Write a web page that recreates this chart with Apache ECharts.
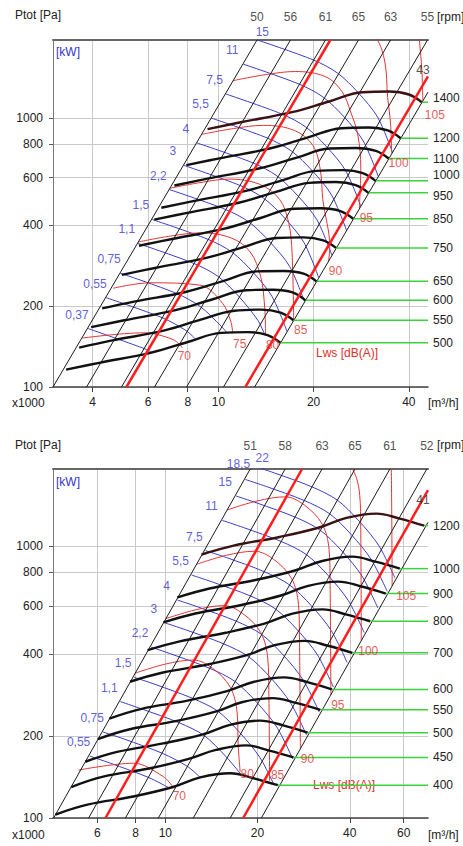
<!DOCTYPE html>
<html><head><meta charset="utf-8">
<script src="https://cdn.jsdelivr.net/npm/echarts@6/dist/echarts.min.js"></script>
<style>html,body{margin:0;padding:0;background:#fff}#chart{width:463px;height:846px}</style>
</head><body><div id="chart"></div>
<script>
// ================= TOP CHART DATA (flow x1000 m3/h, pressure Pa) =================
const topXTicks = [4, 6, 8, 10, 20, 40];
const topYTicks = [100, 200, 400, 600, 800, 1000];
const topRpm = [500, 550, 600, 650, 750, 850, 950, 1000, 1100, 1200, 1400];
const topFanCurves = [
  [[3.3,116],[4.2,123],[6.1,134],[8.0,147],[10.2,159],[12.4,160],[14.3,156],[15.7,146]],
  [[3.63,140],[4.62,149],[6.71,162],[8.8,178],[11.22,192],[13.64,194],[15.73,189],[17.27,177]],
  [[3.96,167],[5.04,177],[7.32,193],[9.6,212],[12.24,229],[14.88,230],[17.16,225],[18.84,210]],
  [[4.29,196],[5.46,208],[7.93,226],[10.4,248],[13.26,269],[16.12,270],[18.59,264],[20.41,247]],
  [[4.95,261],[6.3,277],[9.15,302],[12.0,331],[15.3,358],[18.6,360],[21.45,351],[23.55,329]],
  [[5.61,335],[7.14,355],[10.37,387],[13.6,425],[17.34,460],[21.08,462],[24.31,451],[26.69,422]],
  [[6.27,419],[7.98,444],[11.59,484],[15.2,531],[19.38,574],[23.56,578],[27.17,563],[29.83,527]],
  [[6.6,464],[8.4,492],[12.2,536],[16.0,588],[20.4,636],[24.8,640],[28.6,624],[31.4,584]],
  [[7.26,561],[9.24,595],[13.42,649],[17.6,711],[22.44,770],[27.28,774],[31.46,755],[34.54,707]],
  [[7.92,668],[10.08,708],[14.64,772],[19.2,847],[24.48,916],[29.76,922],[34.32,899],[37.68,841]],
  [[9.24,909],[11.76,964],[17.08,1051],[22.4,1152],[28.56,1247],[34.72,1254],[40.04,1223],[43.96,1145]]
];
const topPowerLabels = ['15','11','7,5','5,5','4','3','2,2','1,5','1,1','0,75','0,55','0,37'];
const topPowerLines = [
  [[13.28,1950],[19.98,1643],[23.8,1470],[27.73,1239],[31.85,1009],[35.5,747]],
  [[11.98,1586],[18.02,1336],[21.46,1195],[25.01,1008],[28.72,821],[32.01,607]],
  [[10.54,1229],[15.86,1035],[18.89,926],[22.01,781],[25.28,636],[28.18,471]],
  [[9.51,999],[14.3,842],[17.04,753],[19.85,635],[22.8,517],[25.41,383]],
  [[8.55,808],[12.86,681],[15.32,609],[17.85,513],[20.5,418],[22.85,309]],
  [[7.77,667],[11.68,562],[13.92,503],[16.22,424],[18.63,345],[20.76,255]],
  [[7.0,542],[10.54,457],[12.55,409],[14.62,344],[16.79,281],[18.72,208]],
  [[6.16,420],[9.27,354],[11.05,317],[12.87,267],[14.78,217],[16.48,161]],
  [[5.56,342],[8.36,288],[9.96,258],[11.61,217],[13.33,177],[14.0,157]],
  [[4.89,265],[7.36,223],[8.77,199],[10.22,168],[10.65,159]],
  [[4.41,215],[6.64,181],[7.91,162],[8.5,150]],
  [[3.87,165],[5.82,139],[6.2,134]]
];
const topSoundLabels = ['70','75','80','85','90','95','100','105'];
const topSoundLines = [
  [[3.71,152],[5.79,159],[7.2,150],[7.69,140]],
  [[4.65,233],[6.09,244],[8.77,239],[10.3,205],[10.95,175],[11.1,158]],
  [[5.58,346],[7.05,364],[8.77,374],[11.0,358],[12.6,318],[13.6,258],[14.0,200],[14.1,156]],
  [[7.02,548],[8.88,577],[10.8,593],[13.5,567],[15.6,499],[16.7,406],[17.1,314],[17.3,178]],
  [[8.84,869],[11.17,914],[13.9,939],[17.4,899],[19.9,791],[21.0,643],[21.4,496],[22.5,332],[22.3,293]],
  [[11.13,1377],[14.07,1449],[17.5,1489],[21.8,1425],[24.6,1254],[26.2,1053],[27.6,865],[28.2,652],[27.9,462]],
  [[14.02,2183],[17.71,2297],[22.03,2360],[27.5,2259],[31.5,1988],[33.6,1615],[34.3,1190],[35.0,966],[35.3,740]],
  [[17.64,3460],[22.29,3640],[27.73,3740],[34.6,3580],[39.7,3150],[42.3,2560],[43.3,1900],[44.0,1500],[44.3,1160]]
];
const topSystemLabels = ['50','56','61','65','63','55','43'];
const topSystemLines = [
  [[3.0,100],[13.25,1950]],
  [[3.83,100],[16.9,1950]],
  [[4.94,100],[21.81,1950]],
  [[6.28,100],[27.73,1950]],
  [[7.93,100],[35.03,1950]],
  [[10.38,100],[45.84,1950]],
  [[13.02,100],[46,1248]]
];
const topRedLines = [
  [[5.12,100],[22.59,1950]],
  [[12.17,100],[46,1428]]
];

// ================= BOTTOM CHART DATA =================
const botXTicks = [6, 8, 10, 20, 40, 60];
const botYTicks = [100, 200, 400, 600, 800, 1000];
const botRpm = [400, 450, 500, 550, 600, 700, 800, 900, 1000, 1200];
const botFanCurves = [
  [[4.38,103],[5.57,112],[7.87,120],[10.6,130],[13.0,141],[16.3,146],[19.4,140],[23.3,132]],
  [[4.93,130],[6.27,142],[8.85,152],[11.93,165],[14.63,178],[18.34,185],[21.83,177],[26.21,167]],
  [[5.48,161],[6.96,175],[9.84,188],[13.25,203],[16.25,220],[20.38,228],[24.25,219],[29.13,206]],
  [[6.02,195],[7.66,212],[10.82,227],[14.58,246],[17.88,267],[22.41,276],[26.68,265],[32.04,250]],
  [[6.57,232],[8.36,252],[11.81,270],[15.9,293],[19.5,317],[24.45,329],[29.1,316],[34.95,297]],
  [[7.67,317],[9.75,342],[13.77,367],[18.55,398],[22.75,432],[28.53,448],[33.95,430],[40.78,405]],
  [[8.76,414],[11.14,446],[15.74,480],[21.2,520],[26.0,564],[32.6,585],[38.8,561],[46.6,529]],
  [[9.86,524],[12.53,565],[17.71,607],[23.85,658],[29.25,714],[36.68,740],[43.65,710],[52.43,669]],
  [[10.95,647],[13.93,698],[19.68,750],[26.5,813],[32.5,881],[40.75,914],[48.5,876],[58.25,826]],
  [[13.14,931],[16.71,1004],[23.61,1080],[31.8,1170],[39.0,1269],[48.9,1316],[58.2,1262],[69.9,1189]]
];
const botPowerLabels = ['22','18,5','15','11','7,5','5,5','4','3','2,2','1,5','1,1','0,75','0,55'];
const botPowerLines = [
  [[19.35,1971],[22.66,1858],[30.12,1650],[36.34,1478],[42.86,1237],[49.8,1002],[56.13,764]],
  [[18.26,1756],[21.38,1655],[28.43,1470],[34.3,1317],[40.45,1102],[47.0,892],[52.98,681]],
  [[17.03,1527],[19.94,1439],[26.51,1278],[31.98,1145],[37.72,958],[43.83,776],[49.4,592]],
  [[15.36,1242],[17.98,1170],[23.91,1039],[28.84,931],[34.02,779],[39.53,631],[44.55,481]],
  [[13.52,962],[15.83,907],[21.04,805],[25.38,721],[29.94,604],[34.79,489],[39.21,373]],
  [[12.19,782],[14.27,737],[18.98,655],[22.89,587],[27.0,491],[31.37,398],[35.36,303]],
  [[10.96,633],[12.84,596],[17.06,529],[20.59,474],[24.28,397],[28.21,321],[31.8,245]],
  [[9.96,522],[11.66,492],[15.5,437],[18.7,392],[22.06,328],[25.63,265],[28.89,202]],
  [[8.98,425],[10.51,400],[13.98,355],[16.86,318],[19.89,266],[23.11,216],[26.05,165]],
  [[7.91,329],[9.26,310],[12.31,275],[14.85,247],[17.51,206],[20.35,167],[22.6,133]],
  [[7.13,268],[8.35,252],[11.1,224],[13.39,201],[15.79,168],[17.8,143]],
  [[6.27,207],[7.35,195],[9.77,173],[11.78,155],[13.0,141]],
  [[5.66,169],[6.62,159],[8.81,141],[10.3,129]]
];
const botSoundLabels = ['70','80','85','90','95','100','105'];
const botSoundLines = [
  [[5.21,150],[7.87,159],[9.85,142],[10.54,131]],
  [[7.98,341],[10.0,368],[12.34,381],[14.23,356],[16.28,303],[17.16,243],[17.29,186],[17.55,148]],
  [[10.05,541],[12.59,583],[15.53,604],[17.91,564],[20.5,480],[21.6,385],[21.77,294],[21.9,137]],
  [[12.65,857],[15.85,925],[19.56,957],[22.55,894],[25.8,761],[27.2,611],[27.4,467],[27.6,180]],
  [[15.92,1357],[19.95,1465],[24.62,1517],[28.39,1417],[32.48,1206],[34.24,968],[34.5,740],[34.7,284]],
  [[20.05,2152],[25.12,2322],[31.0,2404],[35.75,2246],[40.9,1912],[43.11,1535],[43.43,1174],[43.6,449]],
  [[25.23,3410],[31.62,3680],[39.02,3810],[45.0,3560],[51.48,3030],[54.26,2430],[54.67,1860],[55.0,714]]
];
const botSystemLabels = ['51','58','63','65','61','52','41'];
const botSystemLines = [
  [[4.32,100],[18.93,1920]],
  [[5.62,100],[24.61,1920]],
  [[7.41,100],[32.48,1920]],
  [[9.49,100],[41.59,1920]],
  [[12.34,100],[54.06,1920]],
  [[16.29,100],[71.36,1920]],
  [[20.58,100],[72,1223]]
];
const botRedLines = [
  [[6.38,100],[27.95,1920]],
  [[17.96,100],[72,1607]]
];

// ================= STYLE / LAYOUT =================
const FONT = '"Liberation Sans", Arial, sans-serif';
const C = {
  fan: '#111111', fanTop: '#3a1212', blue: '#3c3cc8', blueText: '#3434d0',
  red: '#e33434', redText: '#e0302c', redThick: '#ff1e1e', diag: '#1c1c1c',
  green: '#3ad43a', grid: '#c9c9c9', text: '#222222'
};
const panels = [
  { grid: {left: 53, top: 40, width: 375, height: 347}, xMin: 3, xMax: 46, yMin: 100, yMax: 1950,
    xTicks: topXTicks, yTicks: topYTicks, rpm: topRpm, fan: topFanCurves,
    powerLabels: topPowerLabels, power: topPowerLines, soundLabels: topSoundLabels, sound: topSoundLines,
    sysLabels: topSystemLabels, sys: topSystemLines, red: topRedLines,
    kwOffsets: {0: [5, -8]}, soundOffsets: {0: [2, 8], 7: [12, 14]}, rpmOffsets: {6: [0, 3], 7: [0, -6], 10: [0, -4]} },
  { grid: {left: 53, top: 469, width: 375, height: 349}, xMin: 4.3, xMax: 72, yMin: 100, yMax: 1920,
    xTicks: botXTicks, yTicks: botYTicks, rpm: botRpm, fan: botFanCurves,
    powerLabels: botPowerLabels, power: botPowerLines, soundLabels: botSoundLabels, sound: botSoundLines,
    sysLabels: botSystemLabels, sys: botSystemLines, red: botRedLines,
    kwOffsets: {0: [9, -8], 1: [-7, -16]}, soundOffsets: {1: [7, 2], 2: [8, -6], 6: [14, 10]}, rpmOffsets: {} }
];

const xAxes = [], yAxes = [], grids = [], series = [];
const fmt = v => String(Math.round(v));
panels.forEach((P, gi) => {
  grids.push(Object.assign({containLabel: false}, P.grid));
  xAxes[gi] = {
    type: 'log', logBase: 10, gridIndex: gi, min: P.xMin, max: P.xMax, position: 'bottom',
    axisLine: {show: true, onZero: false, lineStyle: {color: '#444', width: 1.5}},
    axisTick: {show: true, customValues: P.xTicks, length: 5, lineStyle: {color: '#444'}},
    axisLabel: {show: true, customValues: P.xTicks, formatter: fmt, color: C.text, fontSize: 12, fontFamily: FONT, margin: 9},
    splitLine: {show: true, lineStyle: {color: C.grid, width: 1}},
    minorTick: {show: false}, minorSplitLine: {show: false}
  };
  xAxes[gi + 2] = {
    type: 'log', logBase: 10, gridIndex: gi, min: P.xMin, max: P.xMax, position: 'top',
    axisLine: {show: true, onZero: false, lineStyle: {color: '#666', width: 2}},
    axisTick: {show: false}, axisLabel: {show: false}, splitLine: {show: false}
  };
  yAxes[gi] = {
    type: 'log', logBase: 10, gridIndex: gi, min: P.yMin, max: P.yMax,
    axisLine: {show: true, onZero: false, lineStyle: {color: '#777', width: 1}},
    axisTick: {show: true, customValues: P.yTicks, length: 4, lineStyle: {color: '#555'}},
    axisLabel: {show: true, customValues: P.yTicks, formatter: fmt, color: C.text, fontSize: 12, fontFamily: FONT, margin: 10},
    splitLine: {show: true, lineStyle: {color: C.grid, width: 1}},
    minorTick: {show: false}, minorSplitLine: {show: false}
  };

  const base = {type: 'line', xAxisIndex: gi, yAxisIndex: gi, symbol: 'none', showSymbol: false, silent: true, animation: false};
  P.power.forEach(d => series.push(Object.assign({}, base, {data: d, smooth: 0.3, z: 3, lineStyle: {color: C.blue, width: 1}})));
  P.sound.forEach(d => series.push(Object.assign({}, base, {data: d, smooth: 0.35, z: 3, lineStyle: {color: C.red, width: 1}})));
  P.sys.forEach(d => series.push(Object.assign({}, base, {data: d, z: 4, lineStyle: {color: C.diag, width: 1}})));
  P.fan.forEach((d, i) => {
    const end = d[d.length - 1];
    series.push(Object.assign({}, base, {
      data: [end, [P.xMax, end[1]]], z: 4, lineStyle: {color: C.green, width: 1.5},
      endLabel: {show: true, formatter: String(P.rpm[i]), color: C.text, fontSize: 12, fontFamily: FONT, distance: 5,
        offset: P.rpmOffsets[i] || [0, 0]}
    }));
    series.push(Object.assign({}, base, {data: d, smooth: 0.4, z: 5,
      lineStyle: {color: i === P.fan.length - 1 ? C.fanTop : C.fan, width: 2.4}}));
  });
  P.red.forEach(d => series.push(Object.assign({}, base, {data: d, z: 6, lineStyle: {color: C.redThick, width: 2.5}})));

  const lbl = {type: 'scatter', xAxisIndex: gi, yAxisIndex: gi, clip: false, symbolSize: 1,
    itemStyle: {color: 'rgba(0,0,0,0)'}, silent: true, animation: false, z: 10};
  series.push(Object.assign({}, lbl, {data: P.power.map((d, i) => ({value: d[0],
    label: {show: true, position: 'inside', formatter: P.powerLabels[i], offset: P.kwOffsets[i] || [-11, -14],
      color: C.blueText, fontSize: 12, fontFamily: FONT}}))}));
  series.push(Object.assign({}, lbl, {data: P.sound.map((d, i) => ({value: d[d.length - 1],
    label: {show: true, position: 'inside', formatter: P.soundLabels[i], offset: P.soundOffsets[i] || [7, 10],
      color: C.redText, fontSize: 12, fontFamily: FONT}}))}));
  series.push(Object.assign({}, lbl, {data: P.sys.map((d, i) => ({value: d[1],
    label: {show: true, position: 'inside', formatter: P.sysLabels[i], offset: d[1][0] >= P.xMax ? [-5, -22] : [0, -23],
      color: C.text, fontSize: 12, fontFamily: FONT}}))}));
});

const T = (left, top, text, fill) => ({type: 'text', left, top, silent: true,
  style: {text, fill: fill || C.text, font: '12px ' + FONT}});
const graphics = [
  T(15, 9, 'Ptot [Pa]'), T(56, 46, '[kW]', C.blueText), T(437, 11, '[rpm]'),
  T(12, 397, 'x1000'), T(428, 397, '[m³/h]'), T(316, 347, 'Lws [dB(A)]', C.redText),
  T(15, 439, 'Ptot [Pa]'), T(56, 476, '[kW]', C.blueText), T(437, 439, '[rpm]'),
  T(12, 829, 'x1000'), T(428, 829, '[m³/h]'), T(313, 779, 'Lws [dB(A)]', C.redText)
];

const chart = echarts.init(document.getElementById('chart'), null, {renderer: 'svg', width: 463, height: 846});
chart.setOption({
  animation: false, backgroundColor: '#ffffff',
  textStyle: {fontFamily: FONT},
  grid: grids, xAxis: xAxes, yAxis: yAxes, series, graphic: graphics
});
</script></body></html>
